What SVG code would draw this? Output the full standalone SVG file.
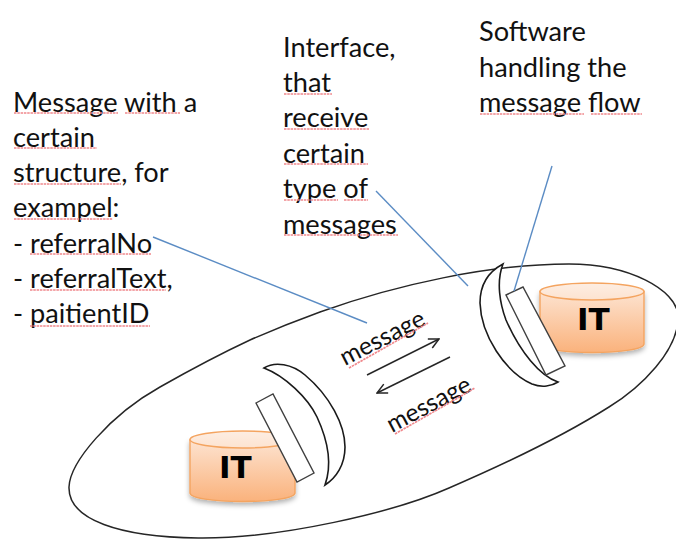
<svg xmlns="http://www.w3.org/2000/svg" width="676" height="539" viewBox="0 0 676 539">
<style>
text{font-family:"Lato","Carlito","Liberation Sans",sans-serif;fill:#111}
.t{font-size:27.200px}
.m{font-size:24.500px}
.it{font-family:"DejaVu Sans",sans-serif;font-weight:bold;font-size:31px;fill:#000}
.sq{fill:none;stroke:#f0888c;stroke-width:1.700;stroke-dasharray:2.500 0.800}
.b{fill:none;stroke:#5b8cc4;stroke-width:1.400}
.k{fill:none;stroke:#262626;stroke-width:1.500}
.cres{fill:#fff;stroke:#1a1a1a;stroke-width:1.600}
.rc{fill:#fff;stroke:#404040;stroke-width:1.400}
.cyl{fill:url(#g);stroke:#f4a460;stroke-width:1.400;filter:url(#s)}
.top{fill:url(#g2);stroke:#f4a460;stroke-width:1.400}
</style>
<defs>
<linearGradient id="g" x1="0" y1="0" x2="0" y2="1"><stop offset="0" stop-color="#fde3d0"/><stop offset="1" stop-color="#fab27c"/></linearGradient>
<linearGradient id="g2" x1="0" y1="0" x2="0" y2="1"><stop offset="0" stop-color="#fdeee3"/><stop offset="1" stop-color="#fde3d0"/></linearGradient>
<filter id="s" x="-10%" y="-10%" width="120%" height="125%"><feDropShadow dx="0" dy="3" stdDeviation="2.500" flood-color="#000" flood-opacity="0.300"/></filter>
<marker id="a" viewBox="0 0 12 12" refX="11" refY="6" markerWidth="12" markerHeight="12" markerUnits="userSpaceOnUse" orient="auto"><path d="M1 1L11 6L1 11" fill="none" stroke="#262626" stroke-width="1.500"/></marker>
</defs>
<g id="boundary"><path class="k" d="M69 487C70 462 110 415 160 387C190 370 220 354 250 340C275 329 298 320 320 312C395 285 490 264 569 264C630 264 676 290 678 315C680 350 640 388 609 407C560 438 500 466 449 488C395 512 280 539 198 538C120 537 68 520 69 487Z"/></g>
<g id="system-b">
<path class="cyl" d="M540 291.500V344C540 349 563 352.500 592 352.500C621 352.500 644 349 644 344V291.500Z"/>
<ellipse class="top" cx="592" cy="291.500" rx="52" ry="8.500"/>
<text class="it" x="577" y="330">IT</text>
<path class="cres" d="M503 264C486 273 480 287 480 303C481 335 505 372 532 384C542 388 552 386 558 382C540 376 520 352 506 320C500 304 496 282 503 264Z"/>
<path class="rc" d="M506 295L523 287L565 366L546 375Z"/>
</g>
<g id="system-a">
<path class="cyl" d="M190 440V493C190 498 213 501.500 242.500 501.500C272 501.500 295 498 295 493V440Z"/>
<ellipse class="top" cx="242.500" cy="439.500" rx="52.500" ry="8.500"/>
<text class="it" x="219" y="478">IT</text>
<path class="cres" d="M264 368C275 361 292 364 305 375C330 396 345 425 345 447C345 465 336 478 325 485C331 468 330 445 317 417C308 398 285 376 264 368Z"/>
<path class="rc" d="M256 403L273 394L314 473L297 482Z"/>
</g>
<g id="connectors">
<path class="k" d="M367 375L439 339" marker-end="url(#a)"/>
<path class="k" d="M450 357L377 393" marker-end="url(#a)"/>
<path class="b" d="M153 237L367 323"/>
<path class="b" d="M376 191L468 286"/>
<path class="b" d="M552 166L514 291"/>
</g>
<g id="label-message-1">
<text class="t" x="13" y="112">Message with a</text>
<text class="t" x="13" y="147">certain</text>
<text class="t" x="13" y="182">structure, for</text>
<text class="t" x="13" y="217">exampel:</text>
<text class="t" x="13" y="253">- referralNo</text>
<text class="t" x="13" y="288">- referralText,</text>
<text class="t" x="13" y="323">- paitientID</text>
<path class="sq" d="M14 113H118M125 113H180M14 148H97M14 184H121M14 219H113M30 254H151M30 290H166M30 326H150"/>
</g>
<g id="label-interface">
<text class="t" x="283" y="57">Interface,</text>
<text class="t" x="283" y="92">that</text>
<text class="t" x="283" y="127">receive</text>
<text class="t" x="283" y="163">certain</text>
<text class="t" x="283" y="198">type of</text>
<text class="t" x="283" y="234">messages</text>
<path class="sq" d="M284 94H332M284 129H369M284 164H368M284 200H338M344 200H368M284 235H398"/>
</g>
<g id="label-software">
<text class="t" x="479" y="41">Software</text>
<text class="t" x="479" y="77">handling the</text>
<text class="t" x="479" y="112">message flow</text>
<path class="sq" d="M480 114H584M591 114H642"/>
</g>
<g id="label-msg-a">
<text class="m" transform="translate(345 366) rotate(-27)">message</text>
<path class="sq" d="M349 368L428 323"/>
</g>
<g id="label-msg-b">
<text class="m" transform="translate(392 433) rotate(-28)">message</text>
<path class="sq" d="M395 434L475 388"/>
</g>
</svg>
